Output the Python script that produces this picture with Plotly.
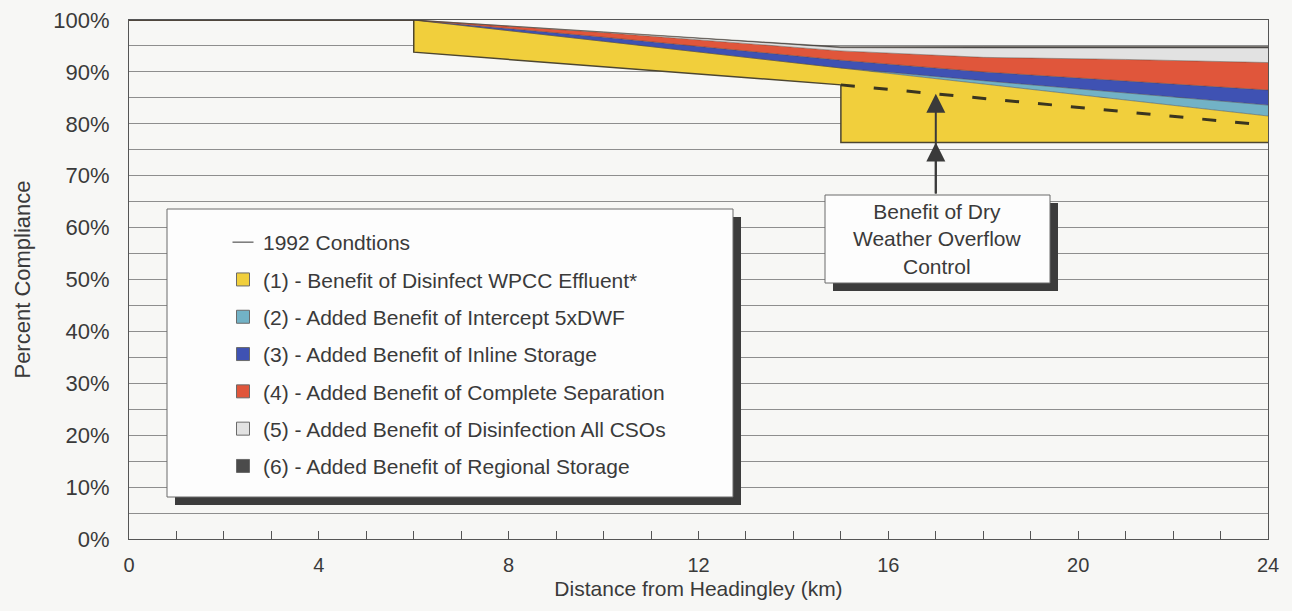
import numpy as np
import plotly.graph_objects as go

# Distance downstream (km); repeated values give the vertical steps at 6 and 15 km
distance_km = [0, 6, 6, 10, 15, 15, 18, 21, 24]

# Percent compliance under 1992 conditions (lower bound of the benefit stack)
conditions_1992 = [100, 100, 93.8, 91.0, 87.5, 76.4, 76.4, 76.4, 76.4]

# Added benefit of each measure, in percentage points, stacked in order
benefit_wpcc = [0, 0, 6.2, 4.9, 3.25, 14.35, 11.3, 8.2, 5.1]
benefit_5xdwf = [0, 0, 0, 0, 0, 0, 0.6, 1.3, 2.1]
benefit_inline = [0, 0, 0, 0.8, 1.5, 1.5, 1.7, 2.3, 2.9]
benefit_separation = [0, 0, 0, 0.9, 1.8, 1.8, 2.8, 4.2, 5.3]
benefit_disinfect_cso = [0, 0, 0, 0.1, 0.6, 0.6, 1.8, 2.2, 2.8]
benefit_regional = [0, 0, 0, 0, 0.2, 0.2, 0.3, 0.3, 0.3]

# Compliance without dry weather overflow control (dashed)
no_dwf_km = [15, 24]
no_dwf_pct = [87.5, 79.7]

series_names = [
    "(1) - Benefit of Disinfect WPCC Effluent*",
    "(2) - Added Benefit of Intercept 5xDWF",
    "(3) - Added Benefit of Inline Storage",
    "(4) - Added Benefit of Complete Separation",
    "(5) - Added Benefit of Disinfection All CSOs",
    "(6) - Added Benefit of Regional Storage",
]
series_values = [benefit_wpcc, benefit_5xdwf, benefit_inline,
                 benefit_separation, benefit_disinfect_cso, benefit_regional]
series_colors = ["#f1cf3c", "#72b2c6", "#3f52b3", "#e0563b", "#e2e2e2", "#4b4b4b"]

FONT = "Liberation Sans, Arial, sans-serif"
TEXT = "#3a3a3a"
BG = "#f7f7f5"
BASE_LINE = "#4d4630"

fig = go.Figure()

fig.add_trace(go.Scatter(
    x=distance_km, y=conditions_1992, mode="lines", name="1992 Condtions",
    line=dict(color=BASE_LINE, width=1.5), legendgroup="g0", showlegend=False,
))

running = np.array(conditions_1992, dtype=float)
for i, (name, vals, col) in enumerate(zip(series_names, series_values, series_colors)):
    running = running + np.array(vals, dtype=float)
    fig.add_trace(go.Scatter(
        x=distance_km, y=running.copy(), mode="lines", name=name,
        fill="tonexty", fillcolor=col,
        line=dict(color="rgba(70,60,50,0.55)", width=0.8),
        legendgroup=f"g{i+1}", showlegend=False,
    ))

# legend keys: short line for the 1992 baseline, square swatches for the layers
fig.add_trace(go.Scatter(
    x=[None], y=[None], mode="markers", name="1992 Condtions",
    marker=dict(symbol="line-ew", size=15, line=dict(color="#555", width=1.2)),
    legendgroup="g0", showlegend=True,
))
for i, (name, col) in enumerate(zip(series_names, series_colors)):
    fig.add_trace(go.Scatter(
        x=[None], y=[None], mode="markers", name=name,
        marker=dict(symbol="square", size=13, color=col,
                    line=dict(color="#6a6a6a", width=1)),
        legendgroup=f"g{i+1}", showlegend=True,
    ))

fig.add_trace(go.Scatter(
    x=no_dwf_km, y=no_dwf_pct, mode="lines", showlegend=False,
    line=dict(color="#3a3520", width=3, dash="14px,19px"),
))

# pixel geometry of the plotting area
PL, PR, PT, PB = 129, 1268, 20, 539


def px(xp):
    return (xp - PL) / (PR - PL)


def py(yp):
    return (PB - yp) / (PB - PT)


shapes = []


def boxed(x0, y0, x1, y1, off=8):
    shapes.append(dict(type="rect", xref="paper", yref="paper", layer="above",
                       x0=px(x0 + off), x1=px(x1 + off), y0=py(y1 + off), y1=py(y0 + off),
                       fillcolor="#3c3c3c", line=dict(width=0)))
    shapes.append(dict(type="rect", xref="paper", yref="paper", layer="above",
                       x0=px(x0), x1=px(x1), y0=py(y1), y1=py(y0),
                       fillcolor="#fdfdfd", line=dict(color="#6a6a6a", width=1)))


boxed(167, 209, 733, 497)
boxed(825, 195, 1050, 283)

# arrows from the label box to the two compliance levels at 17 km
arrow_km = 17
upper = float(np.interp(arrow_km, no_dwf_km, no_dwf_pct))
lower = float(np.interp(arrow_km, distance_km[5:], conditions_1992[5:]))
box_top = py(195) * 100

annotations = [
    dict(x=(px(825) + px(1050)) / 2, y=(py(195) + py(283)) / 2, xref="paper", yref="paper",
         xanchor="center", yanchor="middle",
         text="Benefit of Dry<br>Weather Overflow<br>Control", showarrow=False,
         font=dict(family=FONT, size=21, color=TEXT), align="center"),
]
for tip in (upper, lower):
    annotations.append(dict(
        x=arrow_km, y=tip, ax=arrow_km, ay=box_top, xref="x", yref="y",
        axref="x", ayref="y", text="", showarrow=True, arrowhead=2,
        arrowsize=1.9, arrowwidth=2, arrowcolor="#3a3a3a", standoff=0,
    ))

fig.update_layout(
    width=1292, height=611,
    margin=dict(l=PL, r=1292 - PR, t=PT, b=611 - PB),
    paper_bgcolor=BG, plot_bgcolor=BG,
    font=dict(family=FONT, color=TEXT),
    shapes=shapes, annotations=annotations,
    showlegend=True,
    legend=dict(
        x=px(223), y=py(222), xanchor="left", yanchor="top",
        bgcolor="rgba(0,0,0,0)", borderwidth=0,
        font=dict(family=FONT, size=21, color=TEXT),
        traceorder="grouped", tracegroupgap=7, itemwidth=30,
    ),
    xaxis=dict(
        range=[0, 24], tickvals=[0, 4, 8, 12, 16, 20, 24],
        ticks="inside", ticklen=8, tickcolor="#555", tickwidth=1,
        minor=dict(dtick=1, ticks="inside", ticklen=8, tickcolor="#555"),
        showgrid=False, zeroline=False,
        showline=True, mirror=True, linecolor="#555", linewidth=1,
        tickfont=dict(family=FONT, size=20, color=TEXT),
        ticklabelstandoff=8,
        title=dict(text="Distance from Headingley (km)", standoff=6,
                   font=dict(family=FONT, size=21, color=TEXT)),
        automargin=False,
    ),
    yaxis=dict(
        range=[0, 100], tickvals=list(range(0, 101, 10)),
        ticktext=[f"{v}%" for v in range(0, 101, 10)],
        ticks="", showgrid=True, gridcolor="#8e8e8e", gridwidth=1,
        minor=dict(dtick=5, showgrid=True, gridcolor="#8e8e8e", gridwidth=1),
        zeroline=False,
        showline=True, mirror=True, linecolor="#555", linewidth=1,
        tickfont=dict(family=FONT, size=22, color=TEXT),
        ticklabelstandoff=14,
        title=dict(text="Percent Compliance", standoff=16,
                   font=dict(family=FONT, size=22, color=TEXT)),
        automargin=False,
    ),
)

fig.write_html("out.html")
